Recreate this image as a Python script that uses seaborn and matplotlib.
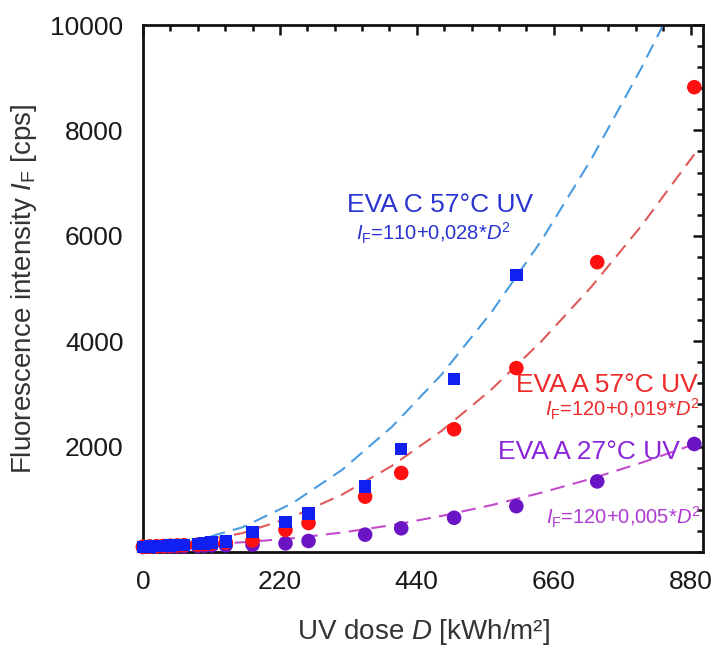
import matplotlib
matplotlib.use("Agg")
from matplotlib import pyplot as plt
from matplotlib.ticker import MultipleLocator
import seaborn as sns
import pandas as pd

# measured points (UV dose in kWh/m2, intensity in cps)
dose_c = [0, 11, 22, 33, 44, 55, 66, 88, 99, 110, 133, 176, 229, 266, 357, 415, 500, 600]
eva_c57 = [100, 105, 110, 115, 120, 128, 135, 150, 165, 180, 200, 385, 570, 730, 1240, 1950, 3280, 5260]

dose_a = [0, 11, 22, 33, 44, 55, 66, 88, 99, 110, 133, 176, 229, 266, 357, 415, 500, 600, 730, 886]
eva_a57 = [100, 105, 110, 115, 120, 125, 130, 140, 150, 160, 180, 220, 420, 550, 1050, 1500, 2330, 3490, 5500, 8820]
eva_a27 = [95, 100, 100, 105, 105, 110, 110, 115, 120, 125, 130, 140, 165, 210, 330, 450, 650, 870, 1340, 2050]

# fit curves
fit_x_c = [0, 80, 160, 240, 320, 400, 480, 560, 640, 720, 800, 840]
fit_c57 = [110, 200, 470, 925, 1560, 2375, 3370, 4550, 5905, 7445, 9165, 10095]
fit_x_a = [0, 80, 160, 240, 320, 400, 480, 560, 640, 720, 800, 886]
fit_a57 = [120, 180, 360, 665, 1090, 1635, 2300, 3085, 3995, 5025, 6175, 7545]
fit_a27 = [120, 135, 185, 260, 370, 510, 685, 890, 1125, 1390, 1690, 2045]

sns.set_theme(style="white")
plt.rcParams['font.family'] = ['Liberation Sans', 'DejaVu Sans']
plt.rcParams['mathtext.fontset'] = 'custom'
plt.rcParams['mathtext.rm'] = 'Liberation Sans'
plt.rcParams['mathtext.it'] = 'Liberation Sans:italic'

pts_c = pd.DataFrame({'dose': dose_c, 'val': eva_c57})
pts_a57 = pd.DataFrame({'dose': dose_a, 'val': eva_a57})
pts_a27 = pd.DataFrame({'dose': dose_a, 'val': eva_a27})
fc = pd.DataFrame({'dose': fit_x_c, 'val': fit_c57})
fa57 = pd.DataFrame({'dose': fit_x_a, 'val': fit_a57})
fa27 = pd.DataFrame({'dose': fit_x_a, 'val': fit_a27})

fig = plt.figure(figsize=(7.14, 6.48), dpi=100)
ax = fig.add_axes([0.2003, 0.1481, 0.7843, 0.8133])

dash = (7, 4)
sns.lineplot(data=fc, x='dose', y='val', ax=ax, color='#4a9be0', lw=1.5)
sns.lineplot(data=fa57, x='dose', y='val', ax=ax, color='#e05a5a', lw=1.5)
sns.lineplot(data=fa27, x='dose', y='val', ax=ax, color='#c44ccc', lw=1.5)
for ln in ax.lines:
    ln.set_dashes(dash)

sns.scatterplot(data=pts_a27, x='dose', y='val', ax=ax, color='#6a14c4', s=110,
                marker='o', edgecolor='none', zorder=3, clip_on=False)
sns.scatterplot(data=pts_a57, x='dose', y='val', ax=ax, color='#ff1010', s=110,
                marker='o', edgecolor='none', zorder=4, clip_on=False)
sns.scatterplot(data=pts_c, x='dose', y='val', ax=ax, color='#1020f0', s=80,
                marker='s', edgecolor='none', zorder=5, clip_on=False)

ax.set_xlim(0, 900)
ax.set_ylim(0, 10000)
ax.xaxis.set_major_locator(MultipleLocator(220))
ax.xaxis.set_minor_locator(MultipleLocator(44))
ax.yaxis.set_minor_locator(MultipleLocator(400))
ax.set_yticks([2000, 4000, 6000, 8000, 10000])
ax.tick_params(which='both', direction='in', top=True, right=True, width=1.8, color='#111111')
ax.tick_params(which='major', length=7, labelsize=19, labelcolor='#1a1a1a')
ax.tick_params(axis='y', which='major', pad=14)
ax.tick_params(axis='x', which='major', pad=13)
ax.tick_params(which='minor', length=4)
for sp in ax.spines.values():
    sp.set_linewidth(2)
    sp.set_color('#111111')

ax.set_xlabel(r'UV dose $\mathit{D}$ [kWh/m²]', fontsize=20, color='#333333', va='top')
ax.set_ylabel(r'Fluorescence intensity $\mathit{I}_\mathrm{F}$ [cps]', fontsize=20,
              color='#333333')
ax.xaxis.set_label_coords(0.5, -0.123)
ax.yaxis.set_label_coords(-0.186, 0.5)

ax.text(477, 6585, 'EVA C 57°C UV', color='#2a35d0', fontsize=19, ha='center', va='center')
ax.text(467, 6050, r'$\mathit{I}_\mathrm{F}$=110+0,028*$\mathit{D}^2$', color='#2a35d0',
        fontsize=14.5, ha='center', va='center')
ax.text(746, 3170, 'EVA A 57°C UV', color='#ee2a2a', fontsize=19, ha='center', va='center')
ax.text(770, 2700, r'$\mathit{I}_\mathrm{F}$=120+0,019*$\mathit{D}^2$', color='#ee2a2a',
        fontsize=14.5, ha='center', va='center')
ax.text(716, 1900, 'EVA A 27°C UV', color='#8a25d8', fontsize=19, ha='center', va='center')
ax.text(772, 650, r'$\mathit{I}_\mathrm{F}$=120+0,005*$\mathit{D}^2$', color='#b03ad0',
        fontsize=14.5, ha='center', va='center')

fig.savefig('out.png', dpi=100)
